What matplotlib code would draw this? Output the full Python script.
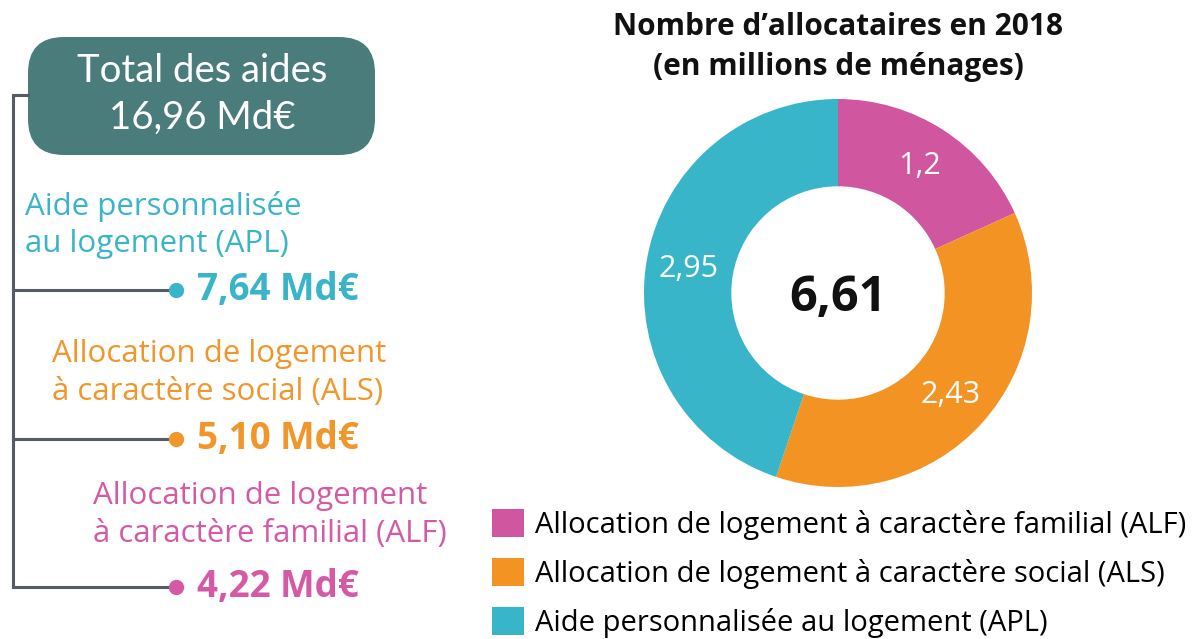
import matplotlib.pyplot as plt
from matplotlib.patches import FancyBboxPatch

# Données
aides = ["Aide personnalisée\nau logement (APL)",
         "Allocation de logement\nà caractère social (ALS)",
         "Allocation de logement\nà caractère familial (ALF)"]
montants = ["7,64 Md€", "5,10 Md€", "4,22 Md€"]
total_aides = "16,96 Md€"

categories = ["Allocation de logement à caractère familial (ALF)",
              "Allocation de logement à caractère social (ALS)",
              "Aide personnalisée au logement (APL)"]
allocataires = [1.2, 2.43, 2.95]
labels = ["1,2", "2,43", "2,95"]
total_allocataires = "6,61"

couleurs = ["#cf569f", "#f29324", "#38b5c9"]
couleurs_aides = ["#3ab4c8", "#f0962a", "#d45aa5"]
gris = "#565b66"
sarcelle = "#4a7c7b"

W, H = 1194, 639
fig = plt.figure(figsize=(W / 100, H / 100), dpi=100)

# calque en pixels pour la partie gauche
bg = fig.add_axes([0, 0, 1, 1])
bg.set_xlim(0, W)
bg.set_ylim(H, 0)
bg.axis("off")

box = FancyBboxPatch((28, 37), 347, 118, boxstyle="round,pad=0,rounding_size=36",
                     fc=sarcelle, ec="none")
bg.add_patch(box)
bg.text(202, 71, "Total des aides", color="white", fontsize=27.5, ha="center",
        va="center", family="Lato")
bg.text(202, 118, total_aides, color="white", fontsize=27.5, ha="center",
        va="center", family="Lato")

# arbre
x_tronc = 13
y_vals = [290, 439, 587]
bg.plot([x_tronc, x_tronc], [95, y_vals[-1]], color=gris, lw=2.2, solid_capstyle="butt")
bg.plot([x_tronc, 28], [95, 95], color=gris, lw=2.2)
label_x = [25, 52, 93]
label_y = [225, 373, 515]
for i in range(3):
    y = y_vals[i]
    bg.plot([x_tronc, 176], [y, y], color=gris, lw=2.2)
    bg.plot(176, y, "o", color=couleurs_aides[i], ms=10)
    bg.text(197, y, montants[i], color=couleurs_aides[i], fontsize=26.5,
            fontweight="bold", ha="left", va="center", family="Open Sans")
    bg.text(label_x[i], label_y[i], aides[i], color=couleurs_aides[i], fontsize=22.5,
            ha="left", va="center", family="Open Sans", linespacing=1.33)

# titre
bg.text(838, 47, "Nombre d’allocataires en 2018\n(en millions de ménages)",
        fontsize=21.5, fontweight="bold", ha="center", va="center",
        family="Open Sans", linespacing=1.4, color="#111111")

# anneau
cx, cy, r = 838, 293, 194
ax = fig.add_axes([(cx - r) / W, (H - cy - r) / H, 2 * r / W, 2 * r / H])
wedges, texts = ax.pie(allocataires, colors=couleurs, startangle=90, counterclock=False,
                       radius=1, labels=labels, labeldistance=0.78,
                       wedgeprops=dict(width=0.45, edgecolor="none"),
                       textprops=dict(color="white", fontsize=22, family="Open Sans"))
for t in texts:
    t.set_ha("center")
    t.set_va("center")
ax.text(0, -0.03, total_allocataires, fontsize=35, fontweight="bold", ha="center",
        va="center", family="Open Sans", color="#111111")
ax.set_xlim(-1, 1)
ax.set_ylim(-1, 1)
ax.set_aspect("equal")

fig.legend(wedges, categories, loc="upper left", bbox_to_anchor=(480 / W, 1 - 497 / H),
           frameon=False, handlelength=1.1, handleheight=1.1,
           handletextpad=0.38, labelspacing=0.62, borderaxespad=0,
           prop=dict(family="Open Sans", size=21))

fig.savefig("out.png", dpi=100)
